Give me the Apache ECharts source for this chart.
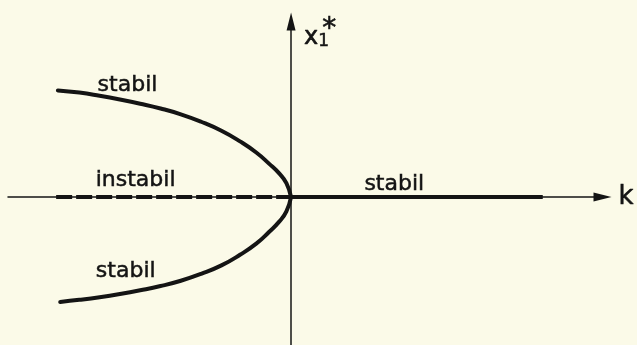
<!DOCTYPE html>
<html>
<head>
<meta charset="utf-8">
<script src="https://cdn.jsdelivr.net/npm/echarts@6/dist/echarts.min.js"></script>
<style>
  html, body { margin: 0; padding: 0; background: #fbfae8; }
  #chart { width: 637px; height: 345px; }
</style>
</head>
<body>
<div id="chart"></div>
<script>
// Pitchfork bifurcation: equilibrium x1* against parameter k.
// Upper stable branch (k < 0)
const upperK = [-4.02, -3.65, -3.30, -2.95, -2.60, -2.25, -1.90, -1.55, -1.20, -0.88, -0.60, -0.38, -0.20, -0.08, 0];
const upperX = [2.01, 1.97, 1.91, 1.84, 1.76, 1.67, 1.56, 1.42, 1.25, 1.05, 0.84, 0.63, 0.44, 0.26, 0];
// Lower stable branch (k < 0)
const lowerK = [-3.98, -3.65, -3.30, -2.95, -2.60, -2.25, -1.90, -1.55, -1.20, -0.88, -0.60, -0.38, -0.20, -0.08, 0];
const lowerX = [-1.98, -1.94, -1.89, -1.83, -1.76, -1.68, -1.58, -1.45, -1.29, -1.09, -0.88, -0.66, -0.46, -0.27, 0];
// Trivial equilibrium x1* = 0: unstable for k < 0, stable for k > 0
const unstableK = [-4.05, 0];
const unstableX = [0, 0];
const stableK = [0, 4.34];
const stableX = [0, 0];
// Branch annotations
const noteTexts = ['stabil', 'instabil', 'stabil', 'stabil'];
// Anchor of each annotation in (k, x1*)
const noteK = [-2.82, -2.68, -2.85, 1.78];
const noteX = [2.11, 0.31, -1.40, 0.24];

const ink = '#141414';
const zip = (a, b) => a.map((v, i) => [v, b[i]]);

const chart = echarts.init(document.getElementById('chart'), null, { renderer: 'canvas' });

const axisArrow = 'path://M5,0L10,20L0,20Z';
const branchLine = { color: ink, width: 4, cap: 'round', join: 'round' };

chart.setOption({
  backgroundColor: '#fbfae8',
  animation: false,
  grid: { left: 8, right: 34.5, top: 21.5, bottom: 0, containLabel: false },
  xAxis: {
    type: 'value',
    min: -4.88, max: 5.37,
    name: 'k',
    nameLocation: 'end',
    nameGap: 16,
    nameTextStyle: { fontFamily: 'DejaVu Sans', fontSize: 26, color: ink, verticalAlign: 'middle',
      textBorderColor: ink, textBorderWidth: 0.5 },
    axisLine: { onZero: true, symbol: ['none', axisArrow], symbolSize: [9, 19],
      lineStyle: { color: ink, width: 1.5 } },
    axisTick: { show: false }, axisLabel: { show: false }, splitLine: { show: false }
  },
  yAxis: {
    type: 'value',
    min: -2.792, max: 3.311,
    name: '{x|x}{s|1}{a|*}',
    nameLocation: 'end',
    nameGap: 5.5,
    nameTextStyle: {
      align: 'left', verticalAlign: 'top', padding: [0, 0, 0, 13],
      color: ink, fontFamily: 'DejaVu Sans',
      rich: {
        x: { fontFamily: 'DejaVu Sans', fontSize: 24, lineHeight: 34, verticalAlign: 'bottom', color: ink,
          textBorderColor: ink, textBorderWidth: 0.6 },
        s: { fontFamily: 'DejaVu Sans', fontSize: 17, lineHeight: 12, verticalAlign: 'bottom', width: 4, color: ink,
          textBorderColor: ink, textBorderWidth: 0.5 },
        a: { fontFamily: 'DejaVu Sans', fontSize: 28, lineHeight: 34, verticalAlign: 'top', color: ink,
          textBorderColor: ink, textBorderWidth: 0.6 }
      }
    },
    axisLine: { onZero: true, symbol: ['none', axisArrow], symbolSize: [9, 19],
      lineStyle: { color: ink, width: 1.5 } },
    axisTick: { show: false }, axisLabel: { show: false }, splitLine: { show: false }
  },
  series: [
    {
      type: 'line', data: zip(upperK, upperX), smooth: 0.5, symbol: 'none',
      lineStyle: branchLine, z: 3
    },
    {
      type: 'line', data: zip(lowerK, lowerX), smooth: 0.5, symbol: 'none',
      lineStyle: branchLine, z: 3
    },
    {
      type: 'line', data: zip(unstableK, unstableX), symbol: 'none',
      lineStyle: { color: ink, width: 4, type: [16, 4], cap: 'butt' }, z: 3
    },
    {
      type: 'line', data: zip(stableK, stableX), symbol: 'none',
      lineStyle: { color: ink, width: 4, cap: 'butt' }, z: 3
    },
    {
      type: 'scatter', symbolSize: 0, silent: true,
      itemStyle: { opacity: 1 },
      data: noteTexts.map((t, i) => ({ value: [noteK[i], noteX[i]], name: t })),
      label: {
        show: true, position: 'inside', formatter: p => p.name,
        fontFamily: 'DejaVu Sans', fontSize: 22, color: ink,
        textBorderColor: ink, textBorderWidth: 0.5,
        align: 'center', verticalAlign: 'middle'
      },
      z: 4
    }
  ]
});
</script>
</body>
</html>
